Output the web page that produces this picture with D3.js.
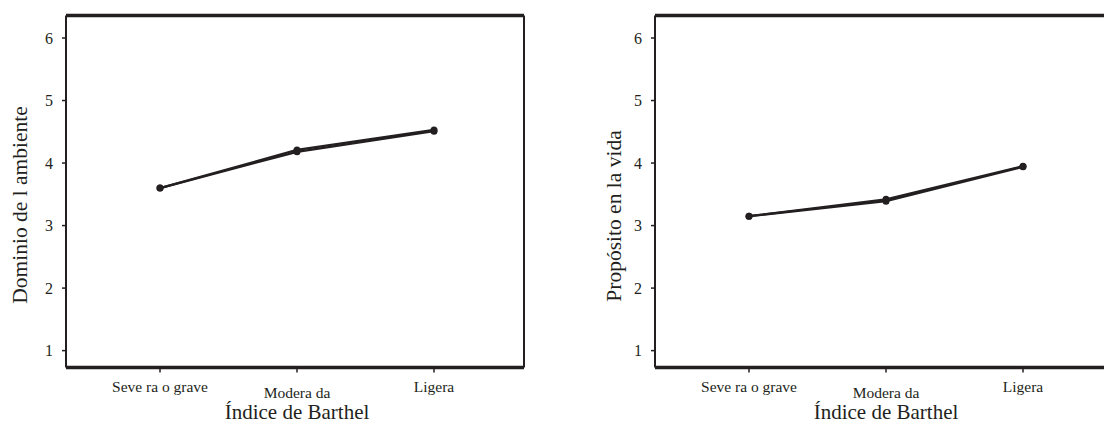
<!DOCTYPE html>
<html>
<head>
<meta charset="utf-8">
<script src="https://cdn.jsdelivr.net/npm/d3@7"></script>
<style>
  body { margin: 0; background: #fff; }
  text { font-family: "Liberation Serif", "Times New Roman", serif; fill: #231f20; }
</style>
</head>
<body>
<div id="chart"></div>
<script>
// categories of the Barthel index
var categories = ["Severa o grave", "Moderada", "Ligera"];
var categoryLabels = ["Seve ra o grave", "Modera da", "Ligera"];
var yTicks = [1, 2, 3, 4, 5, 6];

// left panel: Dominio del ambiente (two nearly overlapping lines)
var ambienteA = [3.60, 4.18, 4.51];
var ambienteB = [3.60, 4.21, 4.53];

// right panel: Propósito en la vida
var propositoA = [3.15, 3.39, 3.94];
var propositoB = [3.15, 3.42, 3.95];

var ink = "#231f20";
var svg = d3.select("#chart").append("svg").attr("width", 1104).attr("height", 423);

var panel = function(x0, yTitle, titleX, titleY, series) {
  var w = 458, top = 15.5, bottom = 367.5;
  var g = svg.append("g");
  var x = d3.scalePoint().domain(categories).range([x0 + 94, x0 + 368]);
  var y = d3.scaleLinear().domain([0.73, 6.36]).range([bottom, top]);

  // frame
  g.append("line").attr("x1", x0).attr("x2", x0 + w).attr("y1", top).attr("y2", top)
    .attr("stroke", ink).attr("stroke-width", 3.5);
  g.append("line").attr("x1", x0).attr("x2", x0 + w).attr("y1", bottom).attr("y2", bottom)
    .attr("stroke", ink).attr("stroke-width", 3.5);
  g.append("line").attr("x1", x0).attr("x2", x0).attr("y1", top).attr("y2", bottom)
    .attr("stroke", ink).attr("stroke-width", 2);
  g.append("line").attr("x1", x0 + w).attr("x2", x0 + w).attr("y1", top).attr("y2", bottom)
    .attr("stroke", ink).attr("stroke-width", 2);

  // y ticks
  g.selectAll(".yt").data(yTicks).enter().append("line")
    .attr("x1", x0 - 4).attr("x2", x0).attr("y1", function(d) { return y(d); }).attr("y2", function(d) { return y(d); })
    .attr("stroke", ink).attr("stroke-width", 1.5);
  g.selectAll(".yl").data(yTicks).enter().append("text")
    .attr("x", x0 - 13).attr("y", function(d) { return y(d); }).attr("dy", "0.35em")
    .attr("text-anchor", "end").attr("font-size", 16).text(function(d) { return d; });

  // x ticks
  g.selectAll(".xt").data(categories).enter().append("line")
    .attr("x1", function(d) { return x(d); }).attr("x2", function(d) { return x(d); })
    .attr("y1", bottom).attr("y2", bottom + 5).attr("stroke", ink).attr("stroke-width", 1.5);
  g.selectAll(".xl").data(categories).enter().append("text")
    .attr("x", function(d) { return x(d); })
    .attr("y", function(d, i) { return i == 1 ? 398 : 392; })
    .attr("text-anchor", "middle").attr("font-size", 15.5)
    .text(function(d, i) { return categoryLabels[i]; });

  // axis titles
  g.append("text").attr("x", x(categories[1])).attr("y", 419).attr("text-anchor", "middle")
    .attr("font-size", 21).text("Índice de Barthel");
  g.append("text").attr("transform", "translate(" + titleX + "," + titleY + ") rotate(-90)")
    .attr("text-anchor", "middle").attr("dy", "0.35em").attr("font-size", 21.5).text(yTitle);

  var line = d3.line().x(function(d, i) { return x(categories[i]); }).y(function(d) { return y(d); });
  series.forEach(function(s) {
    g.append("path").attr("d", line(s)).attr("fill", "none").attr("stroke", ink).attr("stroke-width", 2.3);
    g.selectAll(null).data(s).enter().append("circle")
      .attr("cx", function(d, i) { return x(categories[i]); })
      .attr("cy", function(d) { return y(d); })
      .attr("r", 3.5).attr("fill", ink);
  });
};

panel(66, "Dominio de l ambiente", 19, 205, [ambienteA, ambienteB]);
panel(655, "Propósito en la vida", 613, 216, [propositoA, propositoB]);
</script>
</body>
</html>
